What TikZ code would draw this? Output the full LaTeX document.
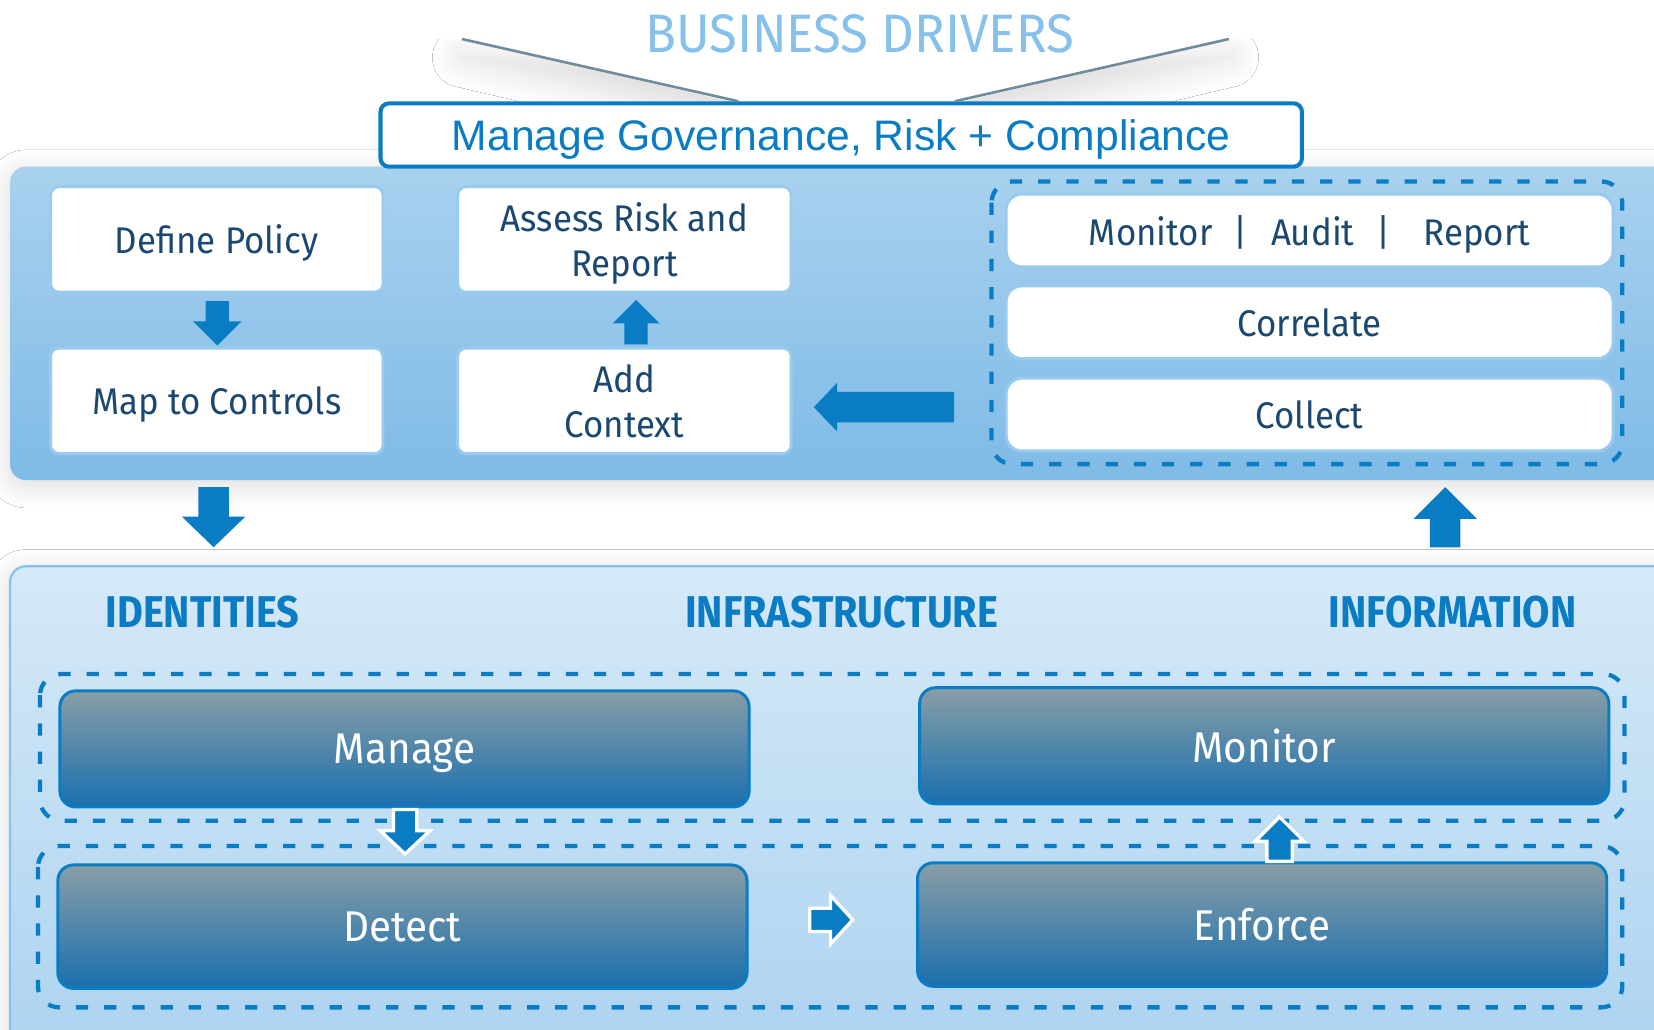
\documentclass[tikz,border=0pt]{standalone}
\usepackage{fontspec}
\setmainfont{Fira Sans}[FakeStretch=0.94]
\newfontfamily\labelfont{Fira Sans}[FakeStretch=0.89]
\newfontfamily\arialf{Liberation Sans}
\usetikzlibrary{calc,shadows.blur}

\definecolor{bmain}{HTML}{0A7CC4}
\definecolor{navy}{HTML}{1B4870}
\definecolor{ptop}{HTML}{A9D1EF}
\definecolor{pbot}{HTML}{7EBBE6}
\definecolor{ltop}{HTML}{D5E9F8}
\definecolor{lbot}{HTML}{ADD3F0}
\definecolor{dtop}{HTML}{889EA6}
\definecolor{dbot}{HTML}{1A6FAE}
\definecolor{bdrv}{HTML}{85C1EB}
\definecolor{wedge}{HTML}{9ACBEE}
\definecolor{funnel}{HTML}{6F8C9C}
\definecolor{lpanel}{HTML}{88C2EB}

% style, start, end, half shaft, half head, head length
\newcommand{\blockarrow}[6]{%
  \path #2 coordinate (ba-a) #3 coordinate (ba-b);
  \coordinate (ba-p) at ($(ba-b)!#6!(ba-a)$);
  \path[#1] ($(ba-a)!#4!90:(ba-b)$) -- ($(ba-p)!#4!90:(ba-b)$) -- ($(ba-p)!#5!90:(ba-b)$)
    -- (ba-b) -- ($(ba-p)!#5!-90:(ba-b)$) -- ($(ba-p)!#4!-90:(ba-b)$) -- ($(ba-a)!#4!-90:(ba-b)$) -- cycle;
}

\tikzset{
  softshadow/.style={blur shadow={shadow blur steps=8, shadow xshift=0pt, shadow yshift=-1.5pt, shadow opacity=14, shadow blur radius=6pt}},
  funnelshadow/.style={blur shadow={shadow blur steps=10, shadow xshift=0pt, shadow yshift=-5pt, shadow opacity=14, shadow blur radius=8pt}},
  toppanel/.style={rectangle, rounded corners=0.15cm, top color=ptop, bottom color=pbot, draw=none, softshadow, inner sep=0},
  botpanel/.style={rectangle, rounded corners=0.15cm, top color=ltop, bottom color=lbot, draw=lpanel, line width=0.6pt, softshadow, inner sep=0},
  wbox/.style={rectangle, rounded corners=0.08cm, fill=white, draw=wedge, line width=0.8pt, text=navy,
    font=\fontsize{10}{12}\selectfont, align=center, inner sep=0, text depth=0pt},
  titlebox/.style={rectangle, rounded corners=0.08cm, fill=white, draw=bmain, line width=1.1pt, text=bmain,
    font=\arialf\fontsize{11.5}{13}\selectfont, inner sep=0, text depth=0pt},
  dbox/.style={rectangle, rounded corners=0.15cm, top color=dtop, bottom color=dbot, draw=bmain, line width=0.8pt,
    text=white, font=\fontsize{11.6}{13}\selectfont, inner sep=0, text depth=0pt},
  dashbox/.style={draw=bmain, line width=1.15pt, dash pattern=on 3.3pt off 4.3pt, rounded corners=0.2cm},
  sectlabel/.style={text=bmain, font=\labelfont\bfseries\fontsize{12}{14}\selectfont, inner sep=0},
  arrowfill/.style={fill=bmain, draw=none},
  arrowwhite/.style={fill=bmain, draw=white, line width=0.9pt},
}

\begin{document}
\begin{tikzpicture}[x=0.01cm, y=-0.01cm]
\useasboundingbox (0,0) rectangle (1568,976);
\fill[white] (0,0) rectangle (1568,976);

% funnel at the top
\coordinate (fl) at (438,37);
\coordinate (fr) at (1165,37);
\path[fill=white, funnelshadow] (fl) -- (fr) -- (905,98) -- (700,98) -- cycle;
\fill[white] (395,22) rectangle (1205,37);

% panels
\node[botpanel, minimum width=15.9cm, minimum height=4.63cm] (bot) at (805,768.5) {};
\node[toppanel, minimum width=15.9cm, minimum height=2.97cm] (top) at (805,306.5) {};

% title and business drivers
\node[titlebox, minimum width=8.73cm, minimum height=0.6cm] (title) at (797.5,128) {Manage Governance, Risk + Compliance};
\draw[funnel, line width=0.7pt] (fl) -- (title.north -| 700,0);
\draw[funnel, line width=0.7pt] (fr) -- (title.north -| 905,0);
\node[text=bdrv, font=\fontsize{14.6}{16}\selectfont, inner sep=0] (drivers) at (815,32) {BUSINESS DRIVERS};

% top panel content
\node[wbox, minimum width=3.15cm, minimum height=1cm] (def) at (205.5,227) {Define Policy};
\node[wbox, minimum width=3.15cm, minimum height=1cm] (map) at (205.5,380) {Map to Controls};
\node[wbox, minimum width=3.16cm, minimum height=1cm] (assess) at (592,227) {Assess Risk and\\Report};
\node[wbox, minimum width=3.16cm, minimum height=1cm] (add) at (592,380) {Add\\Context};

\draw[dashbox] (940,172) rectangle (1538,440);
\node[wbox, minimum width=5.75cm, minimum height=0.69cm, rounded corners=0.15cm] (mar) at (1241.5,218.5)
  {Monitor\hspace{0.20cm}|\hspace{0.22cm}Audit\hspace{0.21cm}|\hspace{0.31cm}Report};
\node[wbox, minimum width=5.75cm, minimum height=0.69cm, rounded corners=0.15cm] (corr) at (1241.5,305.5) {Correlate};
\node[wbox, minimum width=5.75cm, minimum height=0.69cm, rounded corners=0.15cm] (collect) at (1241.5,393) {Collect};

% bottom panel content
\node[sectlabel] (ident) at (192,580) {IDENTITIES};
\node[sectlabel] (infra) at (798,580) {INFRASTRUCTURE};
\node[sectlabel] (inform) at (1377,580) {INFORMATION};

\draw[dashbox] (38,639) rectangle (1540,778);
\draw[dashbox] (36,802) rectangle (1538,955);

\node[dbox, minimum width=6.53cm, minimum height=1.10cm] (manage) at (383.5,710) {Manage};
\node[dbox, minimum width=6.53cm, minimum height=1.10cm] (monitor) at (1198.5,707) {Monitor};
\node[dbox, minimum width=6.53cm, minimum height=1.17cm] (detect) at (381.5,878.5) {Detect};
\node[dbox, minimum width=6.53cm, minimum height=1.17cm] (enforce) at (1196.5,876.5) {Enforce};

% arrows in the top panel
\blockarrow{arrowfill}{($(def.south)+(0.5,7)$)}{($(map.north)+(0.5,-1)$)}{0.11cm}{0.23cm}{0.23cm}
\blockarrow{arrowfill}{($(add.north)+(11,-2)$)}{($(assess.south)+(11,6)$)}{0.11cm}{0.22cm}{0.22cm}
\blockarrow{arrowfill}{($(collect.west)+(-48,-7)$)}{($(add.east)+(20,6)$)}{0.145cm}{0.23cm}{0.22cm}

% arrows between panels
\blockarrow{arrowfill}{($(map.south |- top.south)+(-3,6)$)}{($(map.south |- bot.north)+(-3,-17)$)}{0.145cm}{0.30cm}{0.29cm}
\blockarrow{arrowfill}{($(collect.south |- bot.north)+(128.5,-17)$)}{($(collect.south |- top.south)+(128.5,6)$)}{0.145cm}{0.30cm}{0.30cm}

% arrows in the bottom panel
\blockarrow{arrowwhite}{($(manage.south)+(0.5,1)$)}{($(detect.north)+(2.5,-9)$)}{0.11cm}{0.235cm}{0.22cm}
\blockarrow{arrowwhite}{($(enforce.north)+(16.5,0)$)}{($(monitor.south)+(14.5,11)$)}{0.12cm}{0.23cm}{0.23cm}
\blockarrow{arrowwhite}{($(detect.east)+(58,-6.5)$)}{($(enforce.west)+(-60,-4.5)$)}{0.11cm}{0.23cm}{0.21cm}
\end{tikzpicture}
\end{document}
